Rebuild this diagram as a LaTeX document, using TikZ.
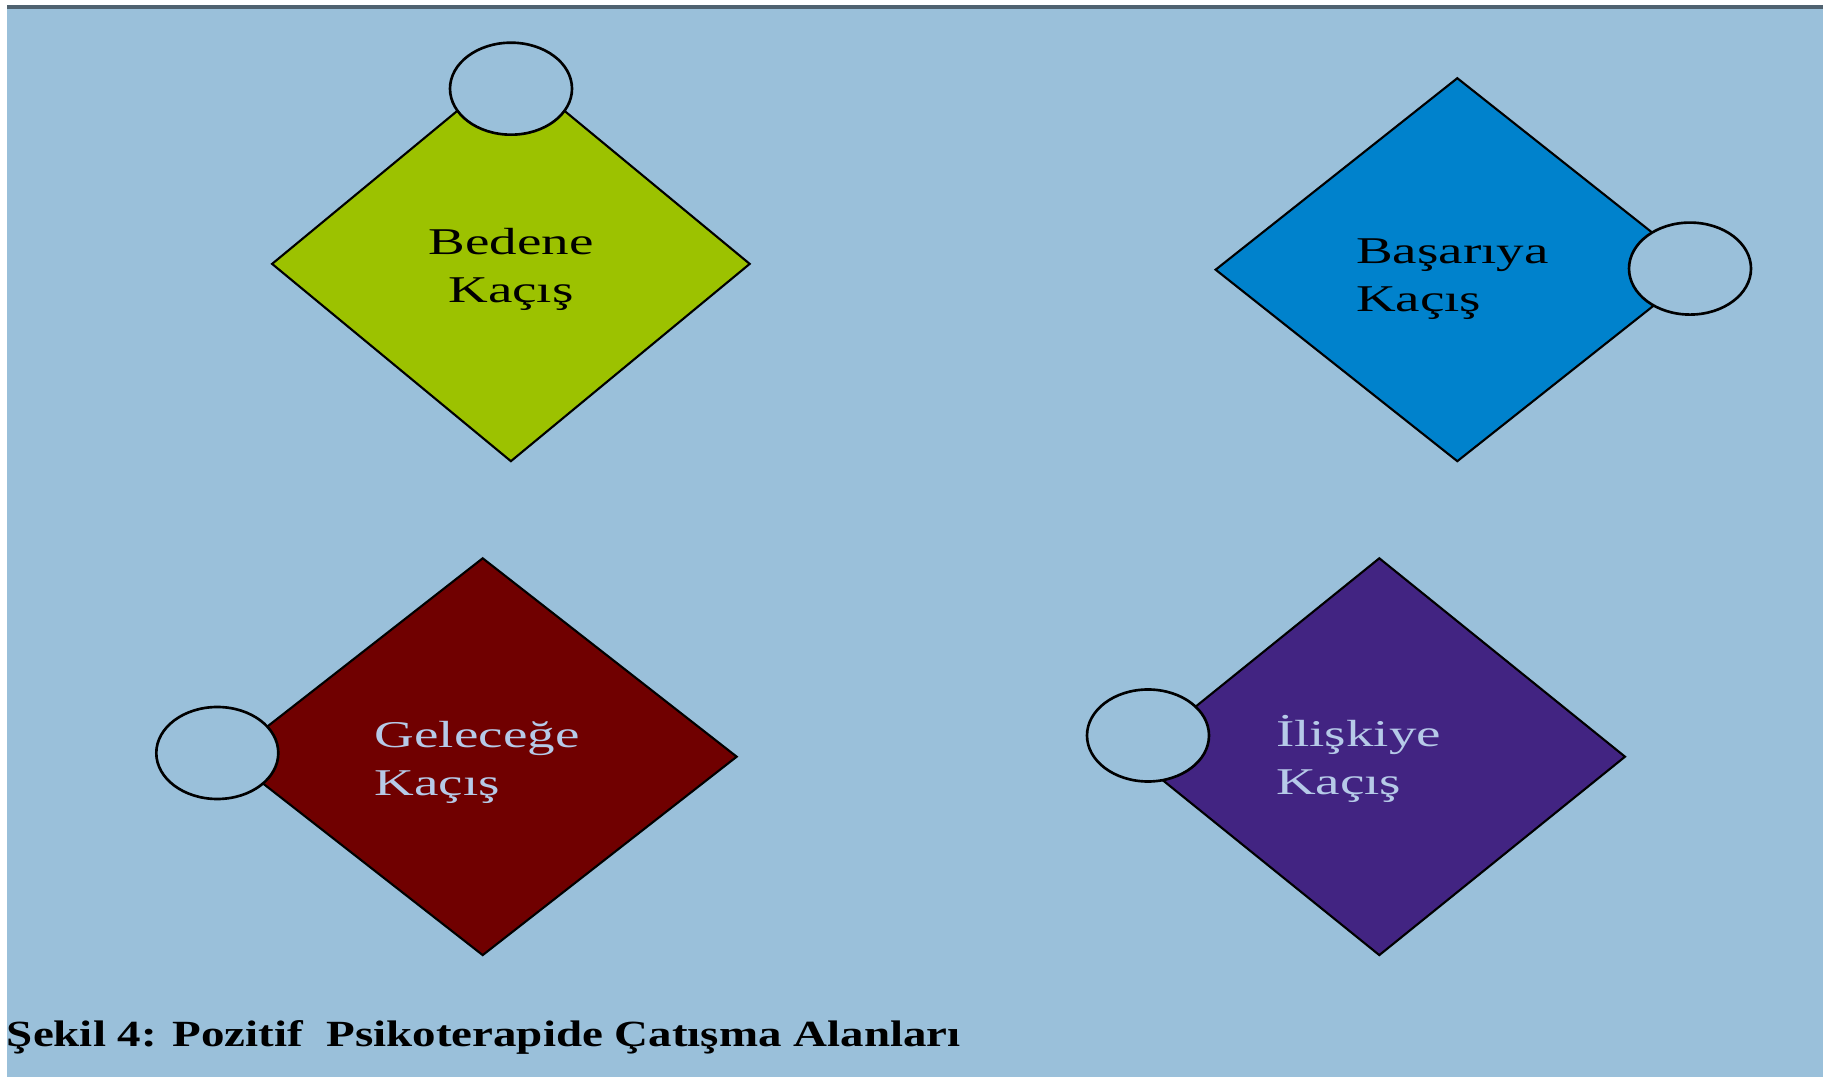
\documentclass[tikz,border=0pt]{standalone}
\usepackage{fontspec}
\setmainfont{Liberation Serif}
\usetikzlibrary{shapes.geometric}
\definecolor{bgblue}{RGB}{154,192,218}
\definecolor{topbar}{RGB}{79,98,112}
\definecolor{dgreen}{RGB}{156,194,0}
\definecolor{dblue}{RGB}{0,130,204}
\definecolor{dred}{RGB}{112,0,0}
\definecolor{dpurple}{RGB}{66,36,130}
\definecolor{ltext}{RGB}{182,202,232}
\begin{document}
\begin{tikzpicture}[x=0.01cm,y=-0.01cm,
  diam/.style={draw=black,line width=0.6pt,line join=miter},
  knob/.style={draw=black,line width=0.75pt,fill=bgblue},
  lbl/.style={inner sep=0pt,align=left,font=\fontsize{10.75}{13.66}\selectfont,xscale=1.456,transform shape},
  lblc/.style={lbl,align=center},
  captionstyle/.style={inner sep=0pt,font=\bfseries\fontsize{10.5}{12}\selectfont,xscale=1.272,transform shape}]
\useasboundingbox (0,0) rectangle (1831,1077);
\fill[white] (0,0) rectangle (1831,1077);
\fill[bgblue] (7,9) rectangle (1823,1077);
\fill[topbar] (7,5) rectangle (1823,9);
% diamonds
\filldraw[diam,fill=dgreen] (272.1,263.9) -- (510.9,66.6) -- (749.7,263.9) -- (510.9,461.2) -- cycle;
\filldraw[diam,fill=dblue] (1215.6,269.7) -- (1457.3,78.2) -- (1699,269.7) -- (1457.3,461.2) -- cycle;
\filldraw[diam,fill=dred] (228.7,756.7) -- (482.7,558.3) -- (736.7,756.7) -- (482.7,955.1) -- cycle;
\filldraw[diam,fill=dpurple] (1133.6,756.7) -- (1379.3,558.3) -- (1625,756.7) -- (1379.3,955.1) -- cycle;
% knobs
\draw[knob] (511,88.7) ellipse [x radius=61, y radius=46];
\draw[knob] (1690,268.6) ellipse [x radius=61, y radius=46];
\draw[knob] (217.3,753) ellipse [x radius=61, y radius=46];
\draw[knob] (1148,735.5) ellipse [x radius=61, y radius=46];
% labels (base anchor = baseline of last line)
\node[lblc,anchor=base] (t1) at (511,303) {Bedene\\Kaçış};
\node[lbl,anchor=base west] (t2) at (1355,312) {Başarıya\\Kaçış};
\node[lbl,anchor=base west,text=ltext] (t3) at (373.7,796) {Geleceğe\\Kaçış};
\node[lbl,anchor=base west,text=ltext] (t4) at (1275,795) {İlişkiye\\Kaçış};
\node[captionstyle,anchor=base west] (caption) at (6,1046) {Şekil 4: Pozitif \ Psikoterapide Çatışma Alanları};
\end{tikzpicture}
\end{document}
